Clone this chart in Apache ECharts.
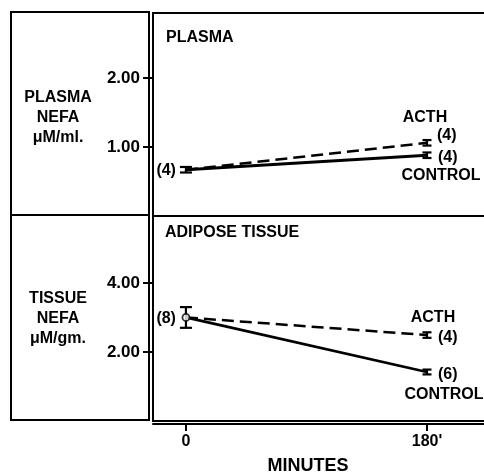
<!DOCTYPE html>
<html><head><meta charset="utf-8">
<script src="https://cdn.jsdelivr.net/npm/echarts@6/dist/echarts.min.js"></script>
<style>html,body{margin:0;padding:0;background:#fff}#c{width:484px;height:473px}</style>
</head><body><div id="c"></div>
<script>
// ---- data ----
const minutes = [0, 180];
const xTickLabels = ['0', "180'"];
const plasmaACTH = [0.67, 1.06];
const plasmaControl = [0.67, 0.88];
const plasmaSEM_ACTH = [0.04, 0.04];
const plasmaSEM_Control = [0.04, 0.04];
const plasmaN = ['(4)', '(4)', '(4)'];      // start, ACTH end, control end
const plasmaTicks = [1, 2];
const tissueACTH = [3.0, 2.49];
const tissueControl = [3.0, 1.42];
const tissueSEM_ACTH = [0.30, 0.08];
const tissueSEM_Control = [0.30, 0.07];
const tissueN = ['(8)', '(4)', '(6)'];
const tissueTicks = [2, 4];
const panelTitles = ['PLASMA', 'ADIPOSE TISSUE'];
const yTitles = [['PLASMA', 'NEFA', 'μM/ml.'], ['TISSUE', 'NEFA', 'μM/gm.']];
const groupNames = ['ACTH', 'CONTROL'];
const xTitle = 'MINUTES';

// ---- chart ----
const FF = '"Liberation Sans", Arial, sans-serif';
const font = (s) => 'bold ' + s + 'px ' + FF;
const chart = echarts.init(document.getElementById('c'), null, {renderer: 'canvas'});
const XMIN = -24.6, XMAX = 229.3;

function pts(xs, ys) { return xs.map((x, i) => [x, ys[i]]); }
function errData(xs, ys, es) { return xs.map((x, i) => [x, ys[i], es[i]]); }
function errRender(params, api) {
  const x = api.value(0), y = api.value(1), e = api.value(2);
  const hi = api.coord([x, y + e]), lo = api.coord([x, y - e]);
  const hw = x === 0 ? 6 : 4.5;
  const st = {stroke: '#000', lineWidth: 2.2};
  return {type: 'group', children: [
    {type: 'line', shape: {x1: hi[0], y1: hi[1], x2: lo[0], y2: lo[1]}, style: st},
    {type: 'line', shape: {x1: hi[0] - hw, y1: hi[1], x2: hi[0] + hw, y2: hi[1]}, style: st},
    {type: 'line', shape: {x1: lo[0] - hw, y1: lo[1], x2: lo[0] + hw, y2: lo[1]}, style: st}
  ]};
}
function yAxisCfg(gi, max, ticks) {
  return {gridIndex: gi, type: 'value', min: 0, max: max, position: 'left',
    axisLine: {show: true, onZero: false, lineStyle: {color: '#000', width: 2}},
    axisTick: {show: true, length: 10, customValues: ticks, lineStyle: {color: '#000', width: 2}},
    axisLabel: {customValues: ticks, formatter: v => v.toFixed(2), margin: 13, color: '#000', fontSize: 17, fontWeight: 'bold', fontFamily: FF},
    splitLine: {show: false}};
}
const lineBase = {type: 'line', symbol: 'none', silent: true, z: 3};

chart.setOption({
  animation: false,
  backgroundColor: '#fff',
  grid: [
    {left: 153, top: 13, width: 340, height: 203, show: true, borderColor: '#000', borderWidth: 2, outerBoundsMode: 'none', containLabel: false},
    {left: 153, top: 216, width: 340, height: 205, show: true, borderColor: '#000', borderWidth: 2, outerBoundsMode: 'none', containLabel: false}
  ],
  xAxis: [
    {gridIndex: 0, type: 'value', min: XMIN, max: XMAX, show: false},
    {gridIndex: 1, type: 'value', min: XMIN, max: XMAX, position: 'bottom', offset: 3,
      axisLine: {show: true, onZero: false, lineStyle: {color: '#000', width: 2}},
      axisTick: {show: true, length: 7, inside: false, customValues: minutes, lineStyle: {color: '#000', width: 2}},
      axisLabel: {customValues: minutes, formatter: v => xTickLabels[minutes.indexOf(v)], margin: 10, color: '#000', fontSize: 16, fontWeight: 'bold', fontFamily: FF},
      splitLine: {show: false}}
  ],
  yAxis: [yAxisCfg(0, 2.94, plasmaTicks), yAxisCfg(1, 5.94, tissueTicks)],
  series: [
    Object.assign({}, lineBase, {xAxisIndex: 0, yAxisIndex: 0, data: pts(minutes, plasmaACTH), lineStyle: {color: '#000', width: 2.5, type: [12, 6]}}),
    Object.assign({}, lineBase, {xAxisIndex: 0, yAxisIndex: 0, data: pts(minutes, plasmaControl), lineStyle: {color: '#000', width: 2.8}}),
    Object.assign({}, lineBase, {xAxisIndex: 1, yAxisIndex: 1, data: pts(minutes, tissueACTH), lineStyle: {color: '#000', width: 2.5, type: [12, 6]}}),
    Object.assign({}, lineBase, {xAxisIndex: 1, yAxisIndex: 1, data: pts(minutes, tissueControl), lineStyle: {color: '#000', width: 2.8}}),
    {type: 'custom', xAxisIndex: 0, yAxisIndex: 0, renderItem: errRender, z: 4,
      data: errData([minutes[0], minutes[1], minutes[1]], [plasmaControl[0], plasmaACTH[1], plasmaControl[1]], [plasmaSEM_Control[0], plasmaSEM_ACTH[1], plasmaSEM_Control[1]])},
    {type: 'custom', xAxisIndex: 1, yAxisIndex: 1, renderItem: errRender, z: 4,
      data: errData([minutes[0], minutes[1], minutes[1]], [tissueControl[0], tissueACTH[1], tissueControl[1]], [tissueSEM_Control[0], tissueSEM_ACTH[1], tissueSEM_Control[1]])},
    {type: 'scatter', xAxisIndex: 1, yAxisIndex: 1, symbol: 'circle', symbolSize: 7, z: 5,
      itemStyle: {color: '#fff', borderColor: '#000', borderWidth: 1.8},
      data: [[minutes[0], tissueControl[0]]]}
  ]
});

// ---- annotations, anchored to data points ----
function px(gi, p) { return chart.convertToPixel({xAxisIndex: gi, yAxisIndex: gi}, p); }
function txt(x, y, text, align, size) {
  return {type: 'text', x: x, y: y, z: 10, silent: true,
    style: {text: text, font: font(size || 16), fill: '#000', textAlign: align || 'center', textVerticalAlign: 'middle', align: align || 'center', verticalAlign: 'middle'}};
}
const g = [];
// left label box
g.push({type: 'rect', shape: {x: 11, y: 12, width: 138, height: 408}, style: {fill: 'none', stroke: '#000', lineWidth: 2}});
g.push({type: 'line', shape: {x1: 11, y1: 215, x2: 149, y2: 215}, style: {stroke: '#000', lineWidth: 2}});
yTitles[0].forEach((t, i) => g.push(txt(58, 98 + i * 20, t, 'center')));
yTitles[1].forEach((t, i) => g.push(txt(58, 299 + i * 20, t, 'center')));
g.push(txt(166, 38, panelTitles[0], 'left'));
g.push(txt(165, 233, panelTitles[1], 'left'));
g.push(txt(308, 466, xTitle, 'center', 18));

const sets = [
  {gi: 0, a: plasmaACTH, c: plasmaControl, n: plasmaN, off: {acth: [-2, -25], acthN: [10, -7], ctlN: [11, 2], ctl: [14, 20]}},
  {gi: 1, a: tissueACTH, c: tissueControl, n: tissueN, off: {acth: [6, -17], acthN: [11, 3], ctlN: [11, 3], ctl: [17, 23]}}
];
sets.forEach(s => {
  const p0 = px(s.gi, [minutes[0], s.c[0]]);
  const pa = px(s.gi, [minutes[1], s.a[1]]);
  const pc = px(s.gi, [minutes[1], s.c[1]]);
  g.push(txt(p0[0] - 10, p0[1] + 1, s.n[0], 'right'));
  g.push(txt(pa[0] + s.off.acth[0], pa[1] + s.off.acth[1], groupNames[0], 'center'));
  g.push(txt(pa[0] + s.off.acthN[0], pa[1] + s.off.acthN[1], s.n[1], 'left'));
  g.push(txt(pc[0] + s.off.ctlN[0], pc[1] + s.off.ctlN[1], s.n[2], 'left'));
  g.push(txt(pc[0] + s.off.ctl[0], pc[1] + s.off.ctl[1], groupNames[1], 'center'));
});
chart.setOption({graphic: g});
</script></body></html>
